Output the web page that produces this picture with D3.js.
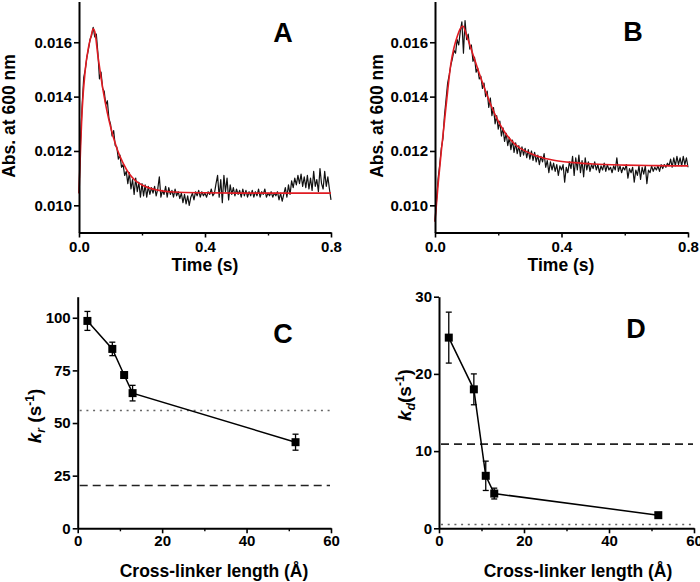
<!DOCTYPE html>
<html><head><meta charset="utf-8">
<script src="https://cdn.jsdelivr.net/npm/d3@7"></script>
<style>
body{margin:0;background:#fff;}
svg{display:block;font-family:"Liberation Sans",Arial,sans-serif;font-weight:bold;}
</style></head>
<body>
<svg id="c" width="700" height="582"></svg>
<script>
// ---------- DATA ----------
const sampleStep = 0.005;
const absA = [0.01044,0.01240,0.01370,0.01470,0.01500,0.01545,0.01575,0.01610,0.01625,0.01655,
0.01620,0.01630,0.01560,0.01465,0.01490,0.01430,0.01420,0.01370,0.01385,0.01320,
0.01300,0.01255,0.01275,0.01220,0.01215,0.01170,0.01185,0.01140,0.01150,0.01110,
0.01125,0.01080,0.01120,0.01060,0.01095,0.01040,0.01100,0.01050,0.01085,0.01030,
0.01080,0.01035,0.01075,0.01030,0.01070,0.01040,0.01065,0.01045,0.01070,0.01035,
0.01060,0.01105,0.01030,0.01055,0.01040,0.01070,0.01030,0.01065,0.01040,0.01055,
0.01030,0.01060,0.01035,0.01050,0.01025,0.01045,0.01010,0.01040,0.01005,0.01035,
0.01000,0.01030,0.01045,0.01020,0.01050,0.01035,0.01055,0.01030,0.01050,0.01035,
0.01045,0.01030,0.01050,0.01040,0.01060,0.01035,0.01045,0.01080,0.01110,0.01030,
0.01095,0.01010,0.01110,0.01050,0.01100,0.01020,0.01075,0.01040,0.01065,0.01035,
0.01060,0.01040,0.01055,0.01030,0.01060,0.01035,0.01055,0.01030,0.01050,0.01035,
0.01055,0.01030,0.01050,0.01035,0.01060,0.01030,0.01050,0.01040,0.01060,0.01030,
0.01045,0.01035,0.01050,0.01030,0.01045,0.01035,0.01050,0.01020,0.01045,0.01015,
0.01040,0.01065,0.01030,0.01075,0.01040,0.01090,0.01065,0.01100,0.01075,0.01110,
0.01080,0.01115,0.01070,0.01105,0.01065,0.01110,0.01060,0.01100,0.01055,0.01125,
0.01070,0.01095,0.01050,0.01135,0.01080,0.01060,0.01125,0.01070,0.01105,0.01060,
0.01020];
const fitTimeA = [0,0.01,0.02,0.03,0.04,0.045,0.05,0.06,0.07,0.08,0.09,0.10,0.12,0.14,0.16,0.18,0.20,0.25,0.30,0.40,0.50,0.80];
const fitA = [0.01044,0.01350,0.01500,0.01580,0.01630,0.01650,0.01640,0.01550,0.01470,0.01400,0.01340,0.01290,0.01210,0.01155,0.01115,0.01090,0.01075,0.01056,0.01049,0.01046,0.01045,0.01045];

const absB = [0.00940,0.01020,0.01100,0.01150,0.01210,0.01245,0.01330,0.01390,0.01450,0.01480,
0.01515,0.01540,0.01570,0.01560,0.01610,0.01590,0.01640,0.01675,0.01560,0.01680,
0.01610,0.01630,0.01575,0.01590,0.01530,0.01545,0.01490,0.01505,0.01465,0.01475,
0.01430,0.01450,0.01400,0.01420,0.01360,0.01395,0.01330,0.01360,0.01300,0.01330,
0.01280,0.01310,0.01255,0.01285,0.01235,0.01265,0.01220,0.01250,0.01205,0.01240,
0.01195,0.01230,0.01190,0.01220,0.01180,0.01215,0.01185,0.01210,0.01175,0.01205,
0.01170,0.01200,0.01165,0.01195,0.01160,0.01185,0.01150,0.01180,0.01160,0.01190,
0.01140,0.01165,0.01120,0.01160,0.01130,0.01155,0.01125,0.01150,0.01110,0.01145,
0.01130,0.01150,0.01085,0.01140,0.01120,0.01160,0.01135,0.01180,0.01110,0.01175,
0.01130,0.01185,0.01120,0.01165,0.01105,0.01175,0.01130,0.01160,0.01125,0.01150,
0.01135,0.01160,0.01130,0.01150,0.01120,0.01145,0.01130,0.01155,0.01125,0.01150,
0.01130,0.01140,0.01120,0.01145,0.01130,0.01175,0.01125,0.01145,0.01120,0.01140,
0.01130,0.01150,0.01100,0.01135,0.01120,0.01140,0.01085,0.01130,0.01110,0.01145,
0.01095,0.01140,0.01115,0.01145,0.01080,0.01130,0.01120,0.01145,0.01125,0.01140,
0.01130,0.01145,0.01125,0.01150,0.01135,0.01150,0.01140,0.01155,0.01145,0.01170,
0.01140,0.01175,0.01145,0.01180,0.01150,0.01175,0.01145,0.01180,0.01150,0.01175,
0.01140];
const fitTimeB = [0,0.01,0.02,0.03,0.04,0.05,0.06,0.07,0.08,0.088,0.10,0.12,0.14,0.16,0.18,0.20,0.22,0.24,0.26,0.28,0.30,0.34,0.38,0.44,0.50,0.60,0.70,0.80];
const fitB = [0.0094,0.0108,0.0120,0.0131,0.0142,0.0152,0.0158,0.0162,0.0165,0.0166,0.01625,0.01555,0.01485,0.0142,0.0136,0.0131,0.0127,0.0124,0.01218,0.01203,0.01192,0.01175,0.01165,0.01157,0.01152,0.01148,0.01146,0.01145];

const linkerLength = [2.3, 8.2, 11, 13, 51.6];
const kr = [98.5, 85.2, 72.8, 64.2, 40.9];
const krErr = [4.5, 3.2, 1.0, 3.7, 3.8];
const kd = [24.7, 18.0, 6.8, 4.5, 1.7];
const kdErr = [3.3, 2.0, 1.9, 0.7, 0.3];
const refC = {dotted: 56, dashed: 20.3};
const refD = {dotted: 0.5, dashed: 10.9};

const timeTicks = [0, 0.4, 0.8], timeMinor = [0.2, 0.6];
const absTicks = [0.010, 0.012, 0.014, 0.016];
const lenTicks = [0, 20, 40, 60], lenMinor = [10, 30, 50];
const krTicks = [0, 25, 50, 75, 100];
const kdTicks = [0, 10, 20, 30];

// ---------- DRAW ----------
const svg = d3.select("#c");

function styleAxis(g, fs) {
  g.selectAll("path.domain").attr("stroke", "#000").attr("stroke-width", 2);
  g.selectAll(".tick line").attr("stroke", "#000").attr("stroke-width", 1.6);
  g.selectAll(".tick text").attr("fill", "#000").style("font-size", fs + "px").style("font-weight", "bold")
   .style("font-family", '"Liberation Sans",Arial,sans-serif');
}

function drawAxes(x, y, xt, xm, xfmt, yt, yfmt, xpad) {
  const gx = svg.append("g").attr("transform", `translate(0,${y.range()[0]})`)
    .call(d3.axisBottom(x).tickValues(xt).tickFormat(xfmt).tickSize(5).tickSizeOuter(0).tickPadding(xpad));
  styleAxis(gx, 15);
  const gm = svg.append("g").attr("transform", `translate(0,${y.range()[0]})`)
    .call(d3.axisBottom(x).tickValues(xm).tickFormat("").tickSize(3).tickSizeOuter(0));
  gm.select("path.domain").remove();
  gm.selectAll(".tick line").attr("stroke", "#000").attr("stroke-width", 1.4);
  const gy = svg.append("g").attr("transform", `translate(${x.range()[0]},0)`)
    .call(d3.axisLeft(y).tickValues(yt).tickFormat(yfmt).tickSize(5).tickSizeOuter(0).tickPadding(2));
  styleAxis(gy, 15);
}

function trace(x, y, vals, tFit, fit) {
  const line = d3.line().x((d, i) => x(i * sampleStep)).y(d => y(d));
  svg.append("path").datum(vals).attr("d", line).attr("fill", "none")
    .attr("stroke", "#111").attr("stroke-width", 1.2).attr("stroke-linejoin", "round");
  const fl = d3.line().x((d, i) => x(tFit[i])).y(d => y(d)).curve(d3.curveMonotoneX);
  svg.append("path").datum(fit).attr("d", fl).attr("fill", "none")
    .attr("stroke", "#e01b22").attr("stroke-width", 1.6);
}

function label(txt, x, y) {
  svg.append("text").attr("x", x).attr("y", y).attr("text-anchor", "middle")
    .style("font-size", "27px").style("font-weight", "bold").text(txt);
}
function title(txt, x, y, rot) {
  svg.append("text").attr("transform", `translate(${x},${y})` + (rot ? " rotate(-90)" : ""))
    .attr("text-anchor", "middle").style("font-size", "17.5px").style("font-weight", "bold").text(txt);
}

// Panel A
const xA = d3.scaleLinear([0, 0.8], [79, 331]);
const yAbs = d3.scaleLinear([0.009, 0.0175], [232.5, 1.5]);
trace(xA, yAbs, absA, fitTimeA, fitA);
drawAxes(xA, yAbs, timeTicks, timeMinor, d3.format(".1f"), absTicks, d3.format(".3f"), 4);
label("A", 283, 42);
title("Time (s)", 205, 271, false);
title("Abs. at 600 nm", 15, 116, true);

// Panel B
const xB = d3.scaleLinear([0, 0.8], [435, 688]);
const yAbsB = d3.scaleLinear([0.009, 0.0175], [232.5, 1.5]);
trace(xB, yAbsB, absB, fitTimeB, fitB);
drawAxes(xB, yAbsB, timeTicks, timeMinor, d3.format(".1f"), absTicks, d3.format(".3f"), 4);
label("B", 633, 41);
title("Time (s)", 561, 271, false);
title("Abs. at 600 nm", 383, 116, true);

// Panels C, D
function kinPanel(x, y, vals, errs, ref, yt) {
  const [x0, x1] = x.range();
  svg.append("line").attr("x1", x0 + 2).attr("x2", x1 - 1).attr("y1", y(ref.dotted)).attr("y2", y(ref.dotted))
    .attr("stroke", "#666").attr("stroke-width", 1.5).attr("stroke-dasharray", "2,4.7");
  svg.append("line").attr("x1", x0 + 2).attr("x2", x1 - 1).attr("y1", y(ref.dashed)).attr("y2", y(ref.dashed))
    .attr("stroke", "#222").attr("stroke-width", 1.6).attr("stroke-dasharray", "8,5");
  svg.append("path").datum(vals).attr("fill", "none").attr("stroke", "#000").attr("stroke-width", 1.5)
    .attr("d", d3.line().x((d, i) => x(linkerLength[i])).y(d => y(d)));
  const g = svg.append("g");
  vals.forEach((v, i) => {
    const cx = x(linkerLength[i]);
    g.append("line").attr("x1", cx).attr("x2", cx).attr("y1", y(v - errs[i])).attr("y2", y(v + errs[i]))
      .attr("stroke", "#000").attr("stroke-width", 1.3);
    [v - errs[i], v + errs[i]].forEach(e => g.append("line").attr("x1", cx - 3).attr("x2", cx + 3)
      .attr("y1", y(e)).attr("y2", y(e)).attr("stroke", "#000").attr("stroke-width", 1.3));
    g.append("rect").attr("x", cx - 4).attr("y", y(v) - 4).attr("width", 8).attr("height", 8).attr("fill", "#000");
  });
  drawAxes(x, y, lenTicks, lenMinor, d3.format("d"), yt, d3.format("d"), 2);
}

const xC = d3.scaleLinear([0, 60], [77.7, 331]);
const yC = d3.scaleLinear([0, 110], [528.3, 296.7]);
kinPanel(xC, yC, kr, krErr, refC, krTicks);
label("C", 283, 343);
title("Cross-linker length (Å)", 214, 577, false);
const tC = svg.append("text").attr("transform", "translate(41,416) rotate(-90)").attr("text-anchor", "middle")
  .style("font-size", "19px").style("font-weight", "bold");
tC.append("tspan").style("font-style", "italic").text("k");
tC.append("tspan").attr("dy", 4).style("font-size", "12px").style("font-style", "italic").text("r");
tC.append("tspan").attr("dy", -4).text(" (s");
tC.append("tspan").attr("dy", -7).style("font-size", "12px").text("-1");
tC.append("tspan").attr("dy", 7).text(")");

const xD = d3.scaleLinear([0, 60], [439, 694]);
const yD = d3.scaleLinear([0, 30], [528.3, 296.7]);
kinPanel(xD, yD, kd, kdErr, refD, kdTicks);
label("D", 636, 338);
title("Cross-linker length (Å)", 578, 577, false);
const tD = svg.append("text").attr("transform", "translate(411,395) rotate(-90)").attr("text-anchor", "middle")
  .style("font-size", "19px").style("font-weight", "bold");
tD.append("tspan").style("font-style", "italic").text("k");
tD.append("tspan").attr("dy", 4).style("font-size", "12px").style("font-style", "italic").text("d");
tD.append("tspan").attr("dy", -4).text("(s");
tD.append("tspan").attr("dy", -7).style("font-size", "12px").text("-1");
tD.append("tspan").attr("dy", 7).text(")");
</script>
</body></html>
